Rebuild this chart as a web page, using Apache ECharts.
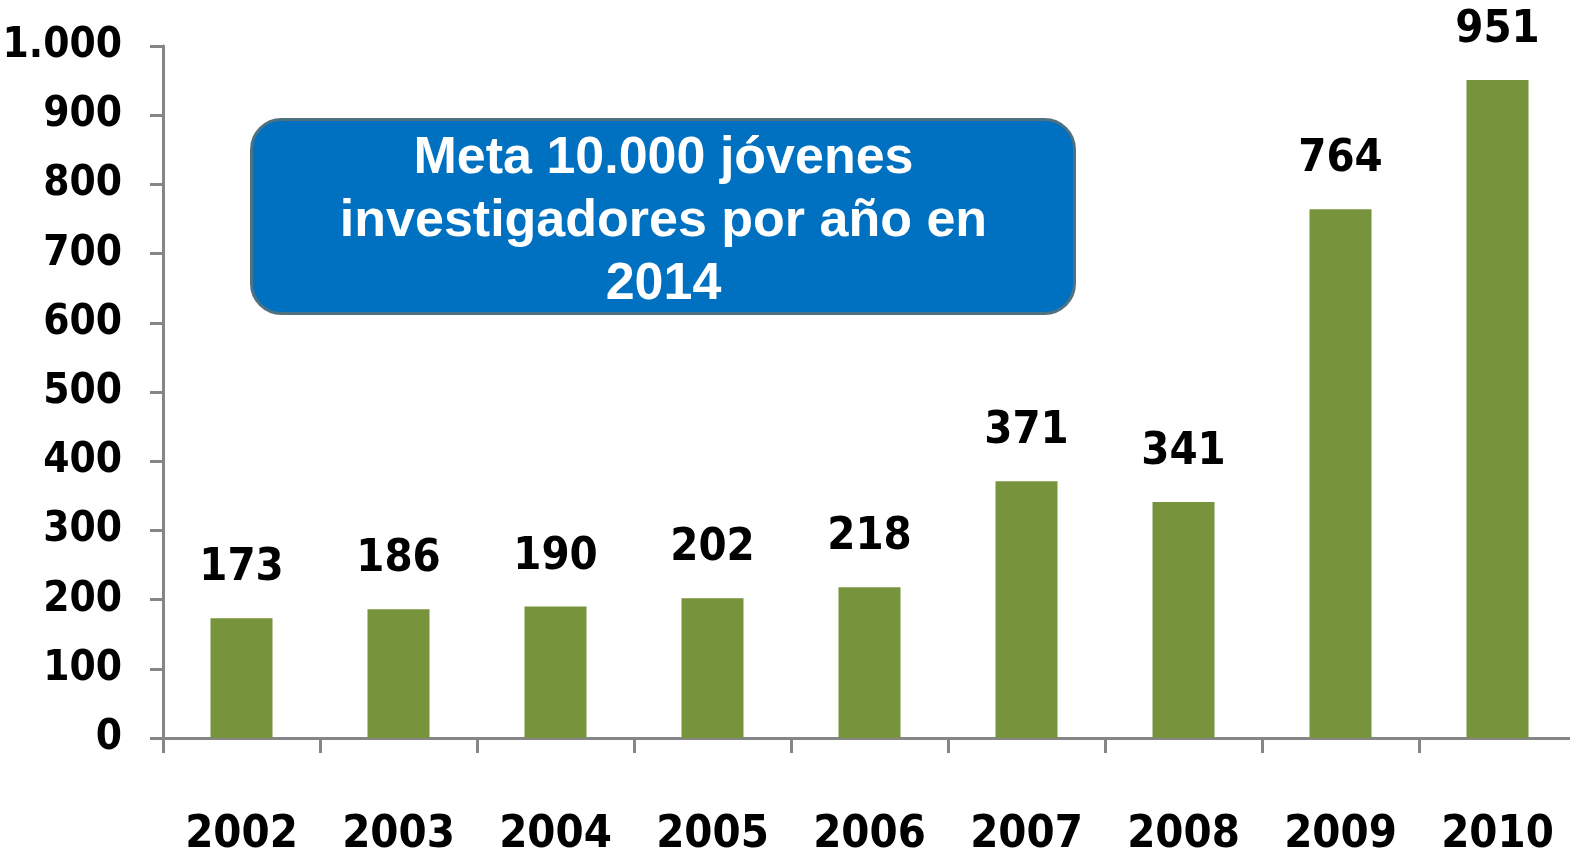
<!DOCTYPE html>
<html>
<head>
<meta charset="utf-8">
<script src="https://cdn.jsdelivr.net/npm/echarts@6/dist/echarts.min.js"></script>
<style>
html,body{margin:0;padding:0;background:#fff;}
#main{width:1570px;height:853px;}
</style>
</head>
<body>
<div id="main"></div>
<script>
var years = ['2002','2003','2004','2005','2006','2007','2008','2009','2010'];
var jovenes = [173, 186, 190, 202, 218, 371, 341, 764, 951];
var boxLines = ['Meta 10.000 jóvenes', 'investigadores por año en', '2014'];

var numFont = '"DejaVu Sans Condensed", "DejaVu Sans", sans-serif';
var axisGray = '#868686';

var mychart = echarts.init(document.getElementById('main'));
var option = {
	animation: false,
	grid: {left: 163, top: 46, bottom: 115, width: 1413, outerBoundsMode: 'none'},
	xAxis: {
		type: 'category',
		data: years,
		axisLine: {lineStyle: {color: axisGray, width: 3}},
		axisTick: {show: true, length: 15, lineStyle: {color: axisGray, width: 3}},
		axisLabel: {interval: 0, margin: 75, fontFamily: numFont, fontWeight: 'bold', fontSize: 45, color: '#000'}
	},
	yAxis: {
		type: 'value',
		min: 0,
		max: 1000,
		interval: 100,
		splitLine: {show: false},
		axisLine: {show: true, lineStyle: {color: axisGray, width: 3}},
		axisTick: {show: true, length: 13, lineStyle: {color: axisGray, width: 3}},
		axisLabel: {
			margin: 41,
			fontFamily: numFont, fontWeight: 'bold', fontSize: 42, color: '#000',
			formatter: function (v) { return v >= 1000 ? (v / 1000) + '.000' : v; }
		}
	},
	series: [{
		type: 'bar',
		data: jovenes,
		barWidth: 62,
		itemStyle: {color: '#77933C'},
		label: {
			show: true, position: 'top', distance: 27,
			fontFamily: numFont, fontWeight: 'bold', fontSize: 45, color: '#000'
		}
	}],
	graphic: [{
		type: 'group',
		left: 250,
		top: 118,
		children: [{
			type: 'rect',
			shape: {x: 0, y: 0, width: 823, height: 194, r: 30},
			style: {fill: '#0070C0', stroke: '#4F7283', lineWidth: 3}
		}, {
			type: 'text',
			x: 412,
			y: 102,
			style: {
				text: boxLines.join('\n'),
				fill: '#fff',
				font: 'bold 52px "Liberation Sans", Arial, sans-serif',
				lineHeight: 63,
				align: 'center',
				verticalAlign: 'middle'
			}
		}]
	}]
};
mychart.setOption(option);
</script>
</body>
</html>
